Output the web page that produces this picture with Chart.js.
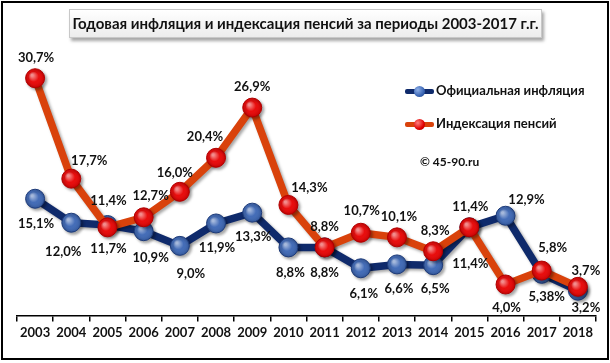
<!DOCTYPE html>
<html>
<head>
<meta charset="utf-8">
<script src="https://cdn.jsdelivr.net/npm/chart.js@4"></script>
<style>
  body { margin: 0; background: #fff; }
  #wrap { position: relative; width: 610px; height: 363px; }
  #frame { position: absolute; left: 1px; top: 1px; width: 604px; height: 355px; border: 2px solid #000; pointer-events: none; }
  #title { position: absolute; left: 69px; top: 9px; width: 471px; height: 27px; border: 1px solid #c8c8c8;
           background: linear-gradient(#ffffff, #ececec); box-shadow: 2px 3px 3px rgba(0,0,0,0.35);
           font: bold 15px Lato, sans-serif; color: #111; text-align: center; line-height: 27px; }
  .leg { position: absolute; left: 405px; font: bold 13px Lato, sans-serif; color: #111; white-space: nowrap; }
  .leg .ln { position: absolute; left: 0; top: 7px; width: 29px; height: 5px; border-radius: 2px; }
  .leg .dot { position: absolute; left: 9px; top: 4px; width: 11px; height: 11px; border-radius: 50%; }
  .leg span.t { position: absolute; left: 31px; top: 0; }
  #copy { position: absolute; left: 420px; top: 154px; font: bold 12px Lato, sans-serif; color: #111; }
</style>
</head>
<body>
<div id="wrap">
  <canvas id="chart" width="610" height="363"></canvas>
  <div id="title">Годовая инфляция и индексация пенсий за периоды 2003-2017 г.г.</div>
  <div class="leg" style="top:82px"><div class="ln" style="background:#0f2a6b"></div><div class="dot" style="background:radial-gradient(circle at 35% 35%, #8fb0e8, #3a65b4 60%, #1d3f80)"></div><span class="t">Официальная инфляция</span></div>
  <div class="leg" style="top:115px"><div class="ln" style="background:#d9420b"></div><div class="dot" style="background:radial-gradient(circle at 35% 35%, #ff8080, #e00000 60%, #a00000)"></div><span class="t">Индексация пенсий</span></div>
  <div id="copy">© 45-90.ru</div>
  <div id="frame"></div>
</div>
<script>
// годы и значения, %
const years = ['2003','2004','2005','2006','2007','2008','2009','2010','2011','2012','2013','2014','2015','2016','2017','2018'];
const inflation = [15.1, 12.0, 11.7, 10.9, 9.0, 11.9, 13.3, 8.8, 8.8, 6.1, 6.6, 6.5, 11.4, 12.9, 5.38, 3.2];
const inflationText = ['15,1%','12,0%','11,7%','10,9%','9,0%','11,9%','13,3%','8,8%','8,8%','6,1%','6,6%','6,5%','11,4%','12,9%','5,38%','3,2%'];
const pensions = [30.7, 17.7, 11.4, 12.7, 16.0, 20.4, 26.9, 14.3, 8.8, 10.7, 10.1, 8.3, 11.4, 4.0, 5.8, 3.7];
const pensionsText = ['30,7%','17,7%','11,4%','12,7%','16,0%','20,4%','26,9%','14,3%','8,8%','10,7%','10,1%','8,3%','11,4%','4,0%','5,8%','3,7%'];

// смещения подписей от точки (px)
const inflationOffs = [[1,25],[-8,29],[1,24],[7,27],[11,28],[1,24],[1,24],[2,25],[0,25],[3,26],[2,24],[2,24],[1,36],[21,-16],[5,23],[8,17]];
const pensionsOffs = [[1,-20],[18,-18],[1,-27],[7,-21],[-5,-19],[-11,-21],[0,-21],[21,-17],[0,-21],[1,-22],[2,-21],[2,-20],[1,-21],[1,23],[11,-23],[8,-16]];

const shadowPlugin = {
  id: 'shadow',
  beforeDatasetDraw(chart) {
    const c = chart.ctx;
    c.save();
    c.shadowColor = 'rgba(0,0,0,0.35)';
    c.shadowBlur = 3;
    c.shadowOffsetX = 2;
    c.shadowOffsetY = 2;
  },
  afterDatasetDraw(chart, args) {
    const c = chart.ctx;
    c.restore();
    // блик на маркерах
    const meta = args.meta;
    meta.data.forEach(p => {
      const r = 9.5;
      const g = c.createRadialGradient(p.x - 3, p.y - 3, 1, p.x, p.y, r);
      g.addColorStop(0, 'rgba(255,255,255,0.55)');
      g.addColorStop(0.5, 'rgba(255,255,255,0.05)');
      g.addColorStop(1, 'rgba(0,0,0,0.15)');
      c.beginPath();
      c.arc(p.x, p.y, r - 0.5, 0, Math.PI * 2);
      c.fillStyle = g;
      c.fill();
    });
  }
};

const labelPlugin = {
  id: 'labels',
  afterDatasetsDraw(chart) {
    const c = chart.ctx;
    c.save();
    c.font = 'bold 13px Lato, sans-serif';
    c.fillStyle = '#111';
    c.textAlign = 'center';
    c.textBaseline = 'middle';
    chart.data.datasets.forEach((ds, i) => {
      const meta = chart.getDatasetMeta(i);
      meta.data.forEach((p, j) => {
        const o = ds.offs[j];
        c.fillText(ds.texts[j], p.x + o[0], p.y + o[1]);
      });
    });
    c.restore();
  }
};

new Chart(document.getElementById('chart'), {
  type: 'line',
  data: {
    labels: years,
    datasets: [
      { label: 'Официальная инфляция', data: inflation, texts: inflationText, offs: inflationOffs, order: 1,
        borderColor: '#0f2a6b', borderWidth: 7.5, pointRadius: 9.5, pointBackgroundColor: '#3a65b4',
        pointBorderColor: '#1d3a78', pointBorderWidth: 1, tension: 0 },
      { label: 'Индексация пенсий', data: pensions, texts: pensionsText, offs: pensionsOffs, order: 0,
        borderColor: '#d9420b', borderWidth: 7.5, pointRadius: 9.5, pointBackgroundColor: '#e80000',
        pointBorderColor: '#b00000', pointBorderWidth: 1, tension: 0 }
    ]
  },
  options: {
    responsive: false,
    animation: false,
    layout: { padding: { left: 17, right: 14, top: 45, bottom: 18 } },
    plugins: { legend: { display: false }, tooltip: { enabled: false } },
    scales: {
      x: {
        offset: true,
        border: { color: '#000', width: 1.5 },
        grid: { drawOnChartArea: false, drawTicks: true, tickLength: 6, color: '#000', lineWidth: 1.5, offset: true },
        ticks: { color: '#111', font: { family: 'Lato', weight: 'bold', size: 13 }, padding: 4 }
      },
      y: { display: false, min: 0, max: 35 }
    }
  },
  plugins: [shadowPlugin, labelPlugin]
});
</script>
</body>
</html>
